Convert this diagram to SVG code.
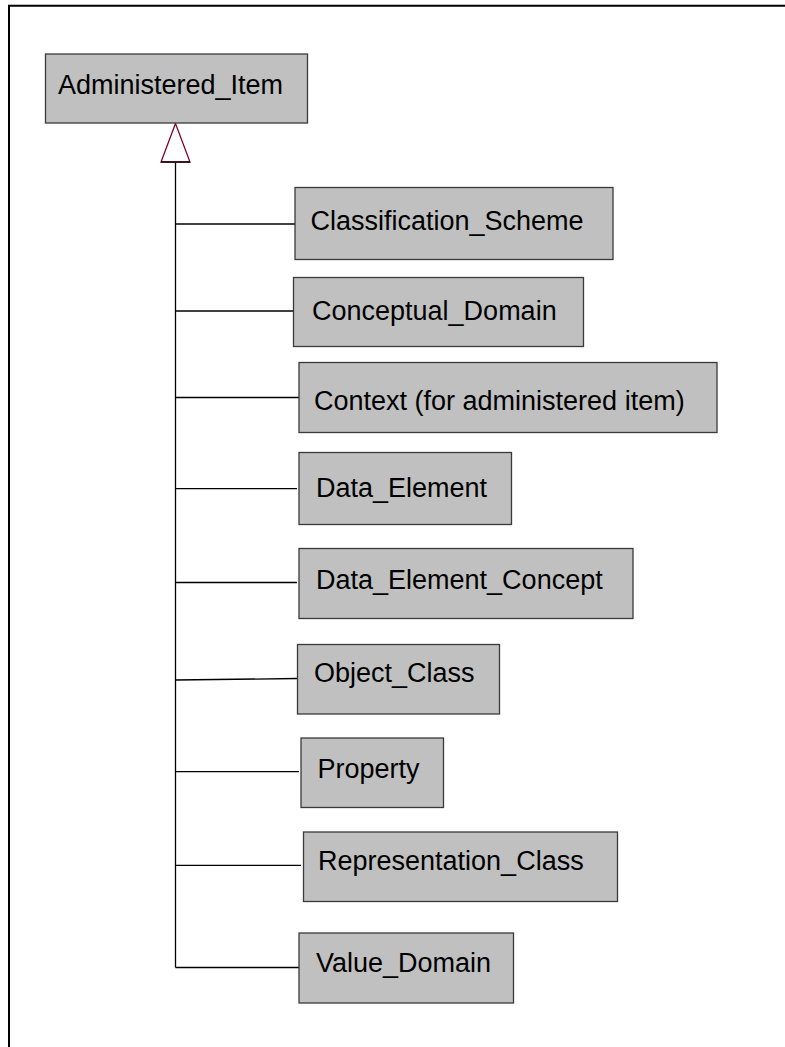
<svg xmlns="http://www.w3.org/2000/svg" width="785" height="1047" viewBox="0 0 785 1047">
<style>
.box{fill:#c0c0c0;stroke:#3a3a3a;stroke-width:1.3}
.lbl{font-family:"Liberation Sans",Arial,sans-serif;font-size:27px;fill:#000}
.conn{stroke:#000;stroke-width:1.3;fill:none}
</style>
<rect width="785" height="1047" fill="#fff"/>
<g id="frame">
<line x1="8" y1="5.7" x2="785" y2="5.7" stroke="#000" stroke-width="2"/>
<line x1="9" y1="5" x2="9" y2="1047" stroke="#000" stroke-width="2"/>
</g>
<g id="connectors">
<line class="conn" x1="175.5" y1="162" x2="175.5" y2="967.5"/>
<line class="conn" x1="175.5" y1="224" x2="295" y2="224"/>
<line class="conn" x1="175.5" y1="311" x2="293" y2="311"/>
<line class="conn" x1="175.5" y1="397.5" x2="299" y2="397.5"/>
<line class="conn" x1="175.5" y1="488.7" x2="297" y2="488.7"/>
<line class="conn" x1="175.5" y1="582.5" x2="297" y2="582.5"/>
<line class="conn" x1="175.5" y1="680" x2="297" y2="678.5"/>
<line class="conn" x1="175.5" y1="771.7" x2="299" y2="771.7"/>
<line class="conn" x1="175.5" y1="865.3" x2="301" y2="865.3"/>
<line class="conn" x1="175.5" y1="967.5" x2="299" y2="967.5"/>
<polygon points="175.5,123.5 161,162 190,162" fill="#fff" stroke="#800030" stroke-width="1.3"/>
<line x1="161" y1="162" x2="190" y2="162" stroke="#000" stroke-width="1.3"/>
</g>
<g id="administered_item">
<rect class="box" x="45.5" y="54" width="262" height="69"/>
<text class="lbl" x="58" y="94">Administered_Item</text>
</g>
<g id="classification_scheme">
<rect class="box" x="295" y="187.5" width="318" height="72"/>
<text class="lbl" x="310.5" y="230">Classification_Scheme</text>
</g>
<g id="conceptual_domain">
<rect class="box" x="293.5" y="277.5" width="290" height="69"/>
<text class="lbl" x="312" y="320">Conceptual_Domain</text>
</g>
<g id="context">
<rect class="box" x="299" y="362.5" width="418" height="70"/>
<text class="lbl" x="314" y="410">Context (for administered item)</text>
</g>
<g id="data_element">
<rect class="box" x="299" y="452.5" width="212.5" height="72"/>
<text class="lbl" x="316" y="497">Data_Element</text>
</g>
<g id="data_element_concept">
<rect class="box" x="299" y="548.5" width="334" height="70"/>
<text class="lbl" x="316" y="589">Data_Element_Concept</text>
</g>
<g id="object_class">
<rect class="box" x="297.5" y="644.5" width="202" height="69.5"/>
<text class="lbl" x="314" y="681.5">Object_Class</text>
</g>
<g id="property">
<rect class="box" x="301" y="738" width="142.5" height="69.5"/>
<text class="lbl" x="317.5" y="777.5">Property</text>
</g>
<g id="representation_class">
<rect class="box" x="303.5" y="832" width="314" height="69.5"/>
<text class="lbl" x="318" y="870">Representation_Class</text>
</g>
<g id="value_domain">
<rect class="box" x="299" y="933" width="214.5" height="70"/>
<text class="lbl" x="316" y="972">Value_Domain</text>
</g>
</svg>
